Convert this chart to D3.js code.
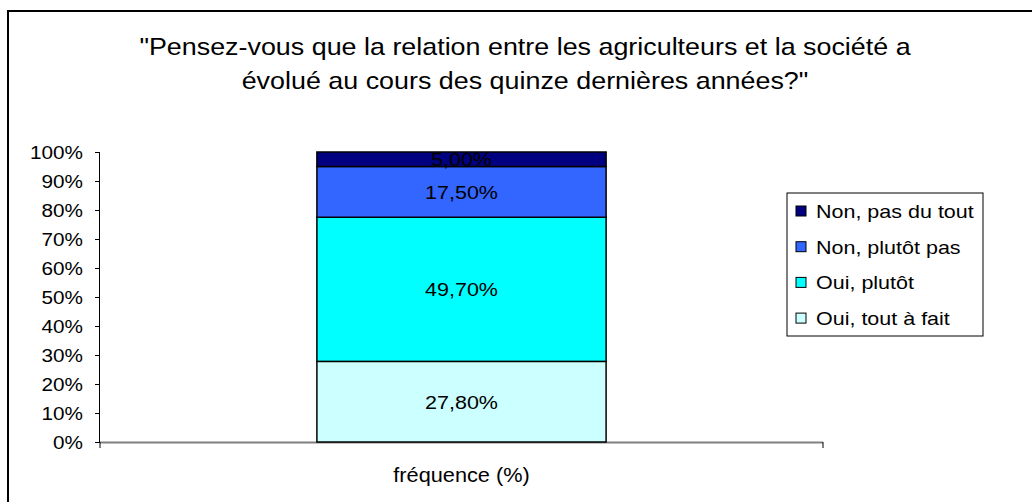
<!DOCTYPE html>
<html>
<head>
<meta charset="utf-8">
<script src="https://cdn.jsdelivr.net/npm/d3@7"></script>
<style>
  body { margin: 0; background: #fff; }
  svg { display: block; font-family: "Liberation Sans", Arial, sans-serif; }
</style>
</head>
<body>
<svg id="chart" width="1032" height="502"></svg>
<script>
// data
const category = "fréquence (%)";
const seriesNames = ["Oui, tout à fait", "Oui, plutôt", "Non, plutôt pas", "Non, pas du tout"];
const seriesValues = [27.8, 49.7, 17.5, 5.0];
const seriesColors = ["#CCFFFF", "#00FFFF", "#3366FF", "#000080"];
const yTicks = [0, 10, 20, 30, 40, 50, 60, 70, 80, 90, 100];
const titleLines = [
  "\"Pensez-vous que la relation entre les agriculteurs et la société a",
  "évolué au cours des quinze dernières années?\""
];

const SX = 1.12; // the original text is a bit wider than Arial
const place = (x, y) => `translate(${x},${y}) scale(${SX},1)`;

const svg = d3.select("#chart");

// outer frame (runs off the right/bottom like the original)
svg.append("rect")
  .attr("x", 8).attr("y", 11)
  .attr("width", 1040).attr("height", 510)
  .attr("fill", "none").attr("stroke", "#000").attr("stroke-width", 2);

// title
svg.append("g").selectAll("text")
  .data(titleLines)
  .enter().append("text")
  .attr("transform", (d, i) => place(525, 55 + i * 34))
  .attr("text-anchor", "middle")
  .attr("font-size", 24)
  .attr("fill", "#000")
  .text(d => d);

const plot = { left: 100, right: 823, top: 152, bottom: 442 };

const y = d3.scaleLinear().domain([0, 100]).range([plot.bottom, plot.top]);
const x = d3.scaleBand().domain([category]).range([plot.left, plot.right]).paddingInner(0.6).paddingOuter(0.3);

// stacked data
let acc = 0;
const stacked = seriesValues.map((v, i) => {
  const d = { name: seriesNames[i], value: v, y0: acc, y1: acc + v, color: seriesColors[i] };
  acc += v;
  return d;
});

// y axis
const yAxis = d3.axisLeft(y).tickValues(yTicks).tickSize(5).tickFormat(d => d + "%");
const gy = svg.append("g").attr("transform", `translate(${plot.left},0)`).call(yAxis);
gy.select(".domain").attr("stroke", "#000").attr("d", `M-0.5,${plot.top}V${plot.bottom}`);
gy.selectAll(".tick line").attr("stroke", "#000");
gy.selectAll(".tick text")
  .attr("x", null).attr("dy", null)
  .attr("transform", place(-17, 6.5))
  .attr("font-size", 18.5)
  .attr("fill", "#000")
  .attr("font-family", "Liberation Sans, Arial, sans-serif");

// x axis line with end ticks
const gx = svg.append("g");
gx.append("line")
  .attr("x1", plot.left).attr("x2", plot.right)
  .attr("y1", plot.bottom + 0.5).attr("y2", plot.bottom + 0.5)
  .attr("stroke", "#808080").attr("stroke-width", 2);
gx.selectAll("line.edge")
  .data([plot.left, plot.right])
  .enter().append("line")
  .attr("class", "edge")
  .attr("x1", d => d).attr("x2", d => d)
  .attr("y1", plot.bottom).attr("y2", plot.bottom + 6)
  .attr("stroke", "#000");
gx.append("text")
  .attr("transform", place(x(category) + x.bandwidth() / 2, 482))
  .attr("text-anchor", "middle")
  .attr("font-size", 19.4)
  .text(category);

// bars
const bars = svg.append("g");
bars.selectAll("rect")
  .data(stacked)
  .enter().append("rect")
  .attr("x", x(category))
  .attr("width", x.bandwidth())
  .attr("y", d => y(d.y1))
  .attr("height", d => y(d.y0) - y(d.y1))
  .attr("fill", d => d.color)
  .attr("stroke", "#000")
  .attr("stroke-width", 1.5);

bars.selectAll("text")
  .data(stacked)
  .enter().append("text")
  .attr("transform", d => place(x(category) + x.bandwidth() / 2, y((d.y0 + d.y1) / 2) + 7))
  .attr("text-anchor", "middle")
  .attr("font-size", 19.2)
  .attr("fill", "#000")
  .text(d => d.value.toFixed(2).replace(".", ",") + "%");

// legend
const legend = svg.append("g").attr("transform", "translate(787,193)");
legend.append("rect")
  .attr("width", 196).attr("height", 143)
  .attr("fill", "#fff").attr("stroke", "#000").attr("stroke-width", 1);

const items = legend.selectAll("g.item")
  .data(stacked.slice().reverse())
  .enter().append("g")
  .attr("class", "item")
  .attr("transform", (d, i) => `translate(0,${18 + i * 35.7})`);
items.append("rect")
  .attr("x", 9).attr("y", -5)
  .attr("width", 10).attr("height", 10)
  .attr("fill", d => d.color)
  .attr("stroke", "#000");
items.append("text")
  .attr("transform", place(29, 7))
  .attr("font-size", 19.2)
  .text(d => d.name);
</script>
</body>
</html>
